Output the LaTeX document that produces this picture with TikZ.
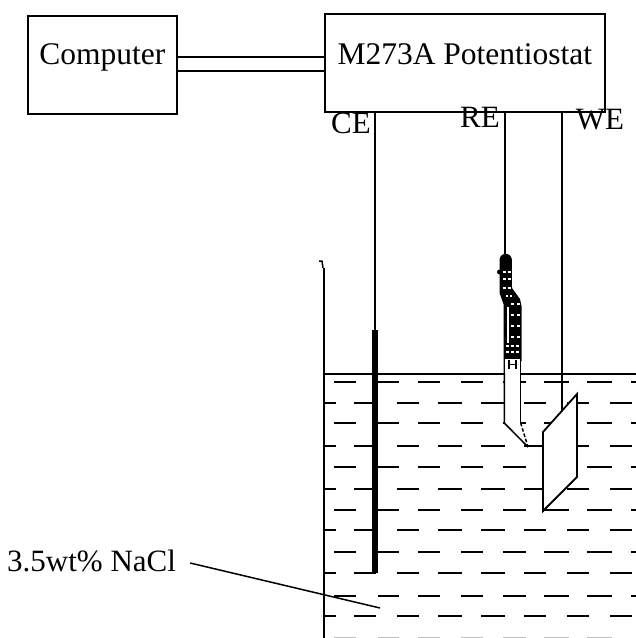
\documentclass[tikz,border=0pt]{standalone}
\usepackage{fontspec}
\setmainfont{Liberation Serif}
\begin{document}
\begin{tikzpicture}[x=1pt,y=-1pt,
  box/.style={draw,line width=1.7pt,inner sep=0pt,anchor=north west,font=\fontsize{31.5}{32}\selectfont},
  wire/.style={line width=1.5pt},
  lab/.style={font=\fontsize{31}{32}\selectfont,inner sep=0pt},
  waterdash/.style={line width=1.7pt}]
\useasboundingbox (0,0) rectangle (636,638);
\fill[white] (0,0) rectangle (636,638);
% water dashes
\foreach \y in {382,423,467,510,552,596}
  \foreach \a/\b in {334/356,378/399,418/440,461/483,503/526,544/569,587/612,631/636}
    \draw[waterdash] (\a,\y) -- (\b,\y);
\foreach \y in {403,446,489,530,573,616}
  \foreach \a/\b in {324/336,354/376,397/419,438/462,481/505,524/546,567/589,610/632}
    \draw[waterdash] (\a,\y) -- (\b,\y);
\foreach \a/\b in {334/356,378/399,418/440,461/483,503/526,544/569,587/612}
  \draw[line width=1pt,black!25] (\a,637) -- (\b,637);
% boxes
\node[box,minimum width=149pt,minimum height=98pt] (comp) at (27,15) {\raisebox{0pt}[0pt][0pt]{Computer}};
\node[box,minimum width=280pt,minimum height=98pt] (pot) at (324,13) {\raisebox{-2pt}[0pt][0pt]{M273A Potentiostat}};
\coordinate (pu) at (324,57); \coordinate (pd) at (324,71);
\draw[wire] (comp.east |- pu) -- (pu);
\draw[wire] (comp.east |- pd) -- (pd);
% cell
\coordinate (wallhook) at (319,261);
\coordinate (hookbend) at (322,261);
\coordinate (hookend) at (323,268);
\coordinate (walltop) at (324,268);
\coordinate (wallbot) at (324,638);
\coordinate (surfL) at (324,374);
\coordinate (surfR) at (636,374);
\draw[wire] (wallhook) -- (hookbend) -- (hookend);
\draw[wire] (walltop) -- (wallbot);
\draw[line width=1.7pt] (surfL) -- (surfR);
% CE
\coordinate (ceTop) at (375,330);
\coordinate (ceBot) at (375,573);
\draw[wire] (pot.south -| ceTop) -- (ceTop);
\draw[line width=5.8pt] (ceTop) -- (ceBot);
% RE
\coordinate (reBlob) at (505,255);
\draw[wire] (pot.south -| reBlob) -- (reBlob);
\fill[white] (504.3,306) -- (504.3,423) -- (528,447) -- (520.7,423) -- (520.7,306) -- cycle;
\fill (499.5,260) arc[start angle=180,end angle=360,radius=6.2] -- (512,288) -- (520,299) -- (521.5,306) -- (521.5,361) -- (503.5,361) -- (503.5,304) -- (499.5,293) -- cycle;
\fill (499.5,272) circle (2.5);
\draw[wire] (504.3,361) -- (504.3,423) -- (528,447);
\draw[wire] (520.7,361) -- (520.7,423);
\draw[wire,dash pattern=on 3.5pt off 2pt] (520.7,423) -- (528,447);
% specks in the probe
\foreach \y in {272,279,288} \draw[white,line width=1.5pt,dash pattern=on 3pt off 1.5pt] (503,\y) -- (511,\y);
\foreach \y in {296} \draw[white,line width=1.5pt,dash pattern=on 2pt off 2pt] (506,\y) -- (514,\y);
\foreach \y in {304,315,326,337} \draw[white,line width=1.5pt,dash pattern=on 3pt off 3pt] (511,\y) -- (520,\y);
\draw[white,line width=2pt] (507.5,307) -- (507.5,343);
\foreach \y in {346,352} \draw[white,line width=1.5pt,dash pattern=on 3pt off 2pt] (506,\y) -- (519,\y);
% graduated foot of the probe
\fill[white] (505.1,359) rectangle (519.9,373);
\draw[line width=1.5pt] (509,360) -- (509,369) (516,360) -- (516,369) (509,364.5) -- (516,364.5);
\draw[wire] (504.3,355) -- (504.3,374) (520.7,355) -- (520.7,374);
% WE
\coordinate (weEnd) at (562,413);
\draw[wire] (pot.south -| weEnd) -- (weEnd);
\coordinate (pa) at (543,432);
\coordinate (pb) at (577,394);
\coordinate (pc) at (577,477);
\coordinate (pd2) at (543,511);
\filldraw[fill=white,line width=1.8pt] (pa) -- (pb) -- (pc) -- (pd2) -- cycle;
% labels
\node[lab,anchor=center] (ce) at (351,123) {CE};
\node[lab,anchor=center] (re) at (480,117) {RE};
\node[lab,anchor=center] (we) at (600,120) {WE};
\node[lab,anchor=west] (nacl) at (7,561) {3.5wt\% NaCl};
\coordinate (leadEnd) at (380,608);
\draw[wire] (nacl.east |- 0,563) ++(14,0) -- (leadEnd);
\end{tikzpicture}
\end{document}
